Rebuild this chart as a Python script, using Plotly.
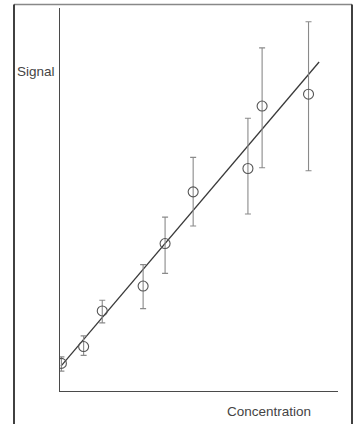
import plotly.graph_objects as go

# Data (arbitrary units)
concentration = [0.05, 0.85, 1.52, 2.99, 3.78, 4.79, 6.76, 7.27, 8.94]
signal = [0.72, 1.16, 2.09, 2.74, 3.85, 5.20, 5.81, 7.44, 7.75]
err_plus = [0.17, 0.28, 0.28, 0.56, 0.69, 0.90, 1.31, 1.52, 1.89]
err_minus = [0.20, 0.23, 0.31, 0.59, 0.78, 0.89, 1.19, 1.61, 2.00]

fit_x = [0.036, 9.32]
fit_y = [0.65, 8.59]

W, H = 355, 424

fig = go.Figure()

fig.add_trace(go.Scatter(
    x=fit_x, y=fit_y, mode="lines",
    line=dict(color="#3a3a3a", width=1.3),
    showlegend=False, hoverinfo="skip",
))

fig.add_trace(go.Scatter(
    x=concentration, y=signal, mode="markers",
    marker=dict(symbol="circle-open", size=10, color="#555555",
                line=dict(width=1.1, color="#555555")),
    error_y=dict(type="data", symmetric=False, array=err_plus,
                 arrayminus=err_minus, color="#8a8a8a", thickness=1.1, width=3),
    showlegend=False,
))

fig.update_xaxes(
    range=[0, 10], domain=[60 / W, 338 / W],
    showline=True, linecolor="#4a4a4a", linewidth=1.3,
    showgrid=False, zeroline=False, showticklabels=False, ticks="",
)
fig.update_yaxes(
    range=[0, 10], domain=[(H - 391) / H, (H - 8) / H],
    showline=True, linecolor="#4a4a4a", linewidth=1.3,
    showgrid=False, zeroline=False, showticklabels=False, ticks="",
)

# Frame around the figure
fig.add_shape(type="line", xref="paper", yref="paper",
              x0=14 / W, x1=352 / W, y0=1 - 4.5 / H, y1=1 - 4.5 / H,
              line=dict(color="#888888", width=1.5))
fig.add_shape(type="line", xref="paper", yref="paper",
              x0=14 / W, x1=14 / W, y0=-0.01, y1=1 - 4.5 / H,
              line=dict(color="#111111", width=1.6))
fig.add_shape(type="line", xref="paper", yref="paper",
              x0=352 / W, x1=352 / W, y0=-0.01, y1=1 - 4.5 / H,
              line=dict(color="#111111", width=1.6))

fig.add_annotation(text="Signal", xref="paper", yref="paper",
                   x=35.5 / W, y=1 - 71 / H, showarrow=False,
                   xanchor="center", yanchor="middle",
                   font=dict(family="Liberation Sans, Arial", size=13.5, color="#444444"))
fig.add_annotation(text="Concentration", xref="paper", yref="paper",
                   x=268.5 / W, y=1 - 411 / H, showarrow=False,
                   xanchor="center", yanchor="middle",
                   font=dict(family="Liberation Sans, Arial", size=13.5, color="#444444"))

fig.update_layout(
    width=W, height=H, autosize=False,
    margin=dict(l=0, r=0, t=0, b=0),
    paper_bgcolor="white", plot_bgcolor="white",
)

fig.write_html(
    "out.html",
    config={"displayModeBar": False},
    post_script="document.body.style.margin='0px';document.body.style.overflow='hidden';",
)
